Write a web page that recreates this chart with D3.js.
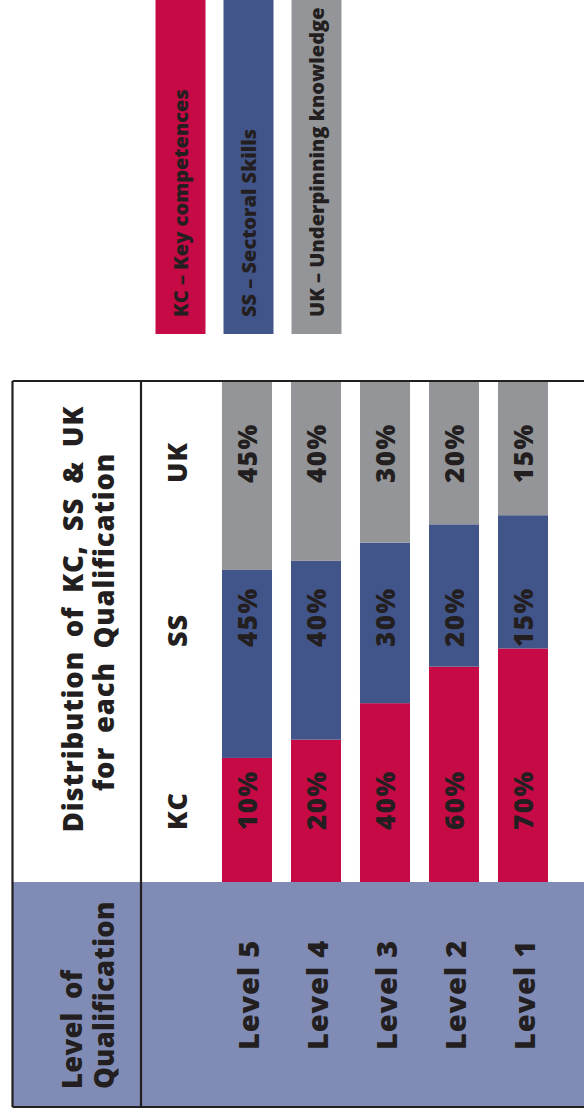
<!DOCTYPE html>
<html>
<head>
<meta charset="utf-8">
<script src="https://cdn.jsdelivr.net/npm/d3@7"></script>
<style>
  html, body { margin: 0; padding: 0; background: #ffffff; }
  svg { display: block; }
</style>
</head>
<body>
<svg id="chart" width="584" height="1117"></svg>
<script>
// ---------------- data ----------------
const levels = ["Level 5", "Level 4", "Level 3", "Level 2", "Level 1"];
const seriesKeys = ["KC", "SS", "UK"];
const kcValues = [10, 20, 40, 60, 70];
const ssValues = [45, 40, 30, 20, 15];
const ukValues = [45, 40, 30, 20, 15];
const legendLabels = ["KC – Key competences", "SS – Sectoral Skills", "UK – Underpinning knowledge"];
const headerTitle = ["Distribution of KC, SS & UK", "for each Qualification"];
const rowTitle = ["Level of", "Qualification"];

// ---------------- style ----------------
const colors = { KC: "#c50a45", SS: "#42558a", UK: "#939598" };
const lavender = "#808cb5";
const ink = "#231f20";
const tableFont = "'Open Sans', 'DejaVu Sans', sans-serif";
const legendFont = "'Open Sans', 'DejaVu Sans', sans-serif";

const svg = d3.select("#chart");

// table frame
const T = { left: 12.5, top: 381, right: 584, bottom: 1107, divider: 141, bandTop: 882 };

// stacked data; each segment gets a fixed visual padding added (infographic style)
const pad = 58;
const rows = levels.map((lv, i) => ({ level: lv, KC: kcValues[i], SS: ssValues[i], UK: ukValues[i] }));
const padded = rows.map(r => ({ level: r.level, KC: r.KC + pad, SS: r.SS + pad, UK: r.UK + pad }));
const stack = d3.stack().keys(seriesKeys)(padded);

const x = d3.scaleBand().domain(levels).range([212.5, 557.5]).paddingInner(0.275).paddingOuter(0.1375);
const y = d3.scaleLinear().domain([0, 100 + 3 * pad]).range([T.bandTop, T.top + 1]);

// lavender band (level row)
svg.append("rect")
  .attr("x", T.left).attr("y", T.bandTop)
  .attr("width", T.right - T.left).attr("height", T.bottom - T.bandTop)
  .attr("fill", lavender);

// bars
const g = svg.append("g");
g.selectAll("g.series").data(stack).join("g")
  .attr("class", "series")
  .attr("fill", d => colors[d.key])
  .selectAll("rect").data(d => d).join("rect")
  .attr("x", d => x(d.data.level))
  .attr("width", x.bandwidth())
  .attr("y", d => y(d[1]))
  .attr("height", d => y(d[0]) - y(d[1]));

// frame lines
const lines = [
  [T.left, T.top, T.right, T.top],
  [T.left, T.bottom, T.right, T.bottom],
  [T.left, T.top, T.left, T.bottom],
  [T.divider, T.top, T.divider, T.bottom]
];
svg.append("g").selectAll("line").data(lines).join("line")
  .attr("x1", d => d[0]).attr("y1", d => d[1]).attr("x2", d => d[2]).attr("y2", d => d[3])
  .attr("stroke", ink).attr("stroke-width", 2.2);

// rotated text helper
function vtext(parent, tx, ty, txt, opts) {
  const t = parent.append("text")
    .attr("transform", `translate(${tx},${ty}) rotate(-90)`)
    .attr("fill", ink)
    .attr("font-family", opts.family || tableFont)
    .attr("font-weight", opts.weight || 800)
    .attr("font-size", opts.size)
    .attr("letter-spacing", opts.ls || 0)
    .attr("word-spacing", opts.ws || 0)
    .attr("text-anchor", opts.anchor || "start")
    .text(txt);
  if (opts.central) t.attr("dominant-baseline", "central");
  return t;
}

// where each series' labels start (bottom of the rotated text)
const labelStart = { KC: 830, SS: 647, UK: 483 };

// column header labels
const txtG = svg.append("g");
seriesKeys.forEach(k => vtext(txtG, 187, labelStart[k], k, { size: 27, ls: 1 }));

// percentage labels inside bars
const values = { KC: kcValues, SS: ssValues, UK: ukValues };
seriesKeys.forEach(k => {
  levels.forEach((lv, i) => {
    vtext(txtG, x(lv) + x.bandwidth() / 2, labelStart[k], values[k][i] + "%", { size: 26, ls: 1.5, central: true });
  });
});

// level labels
levels.forEach(lv => vtext(txtG, x(lv) + x.bandwidth() / 2, 1050, lv, { size: 29, ls: 0.8, central: true }));

// header titles
vtext(txtG, 83, 619, headerTitle[0], { size: 27.5, ls: 0.8, ws: 6, anchor: "middle" });
vtext(txtG, 114, 622, headerTitle[1], { size: 27.5, ls: 0.8, ws: 6, anchor: "middle" });
vtext(txtG, 82, 1089, rowTitle[0], { size: 27.5, ls: 0.2, ws: 6 });
vtext(txtG, 114, 1089, rowTitle[1], { size: 27.5, ls: 0.2 });

// legend
const lx = d3.scaleBand().domain(seriesKeys).range([146.5, 350.5]).paddingInner(0.265).paddingOuter(0.1325);
const lg = svg.append("g");
lg.selectAll("rect").data(seriesKeys).join("rect")
  .attr("x", d => lx(d)).attr("y", -2)
  .attr("width", lx.bandwidth()).attr("height", 336)
  .attr("fill", d => colors[d]);
seriesKeys.forEach((k, i) => vtext(lg, lx(k) + lx.bandwidth() / 2, 317, legendLabels[i],
  { size: 20, ls: 0, weight: 800, family: legendFont, central: true }));
</script>
</body>
</html>
